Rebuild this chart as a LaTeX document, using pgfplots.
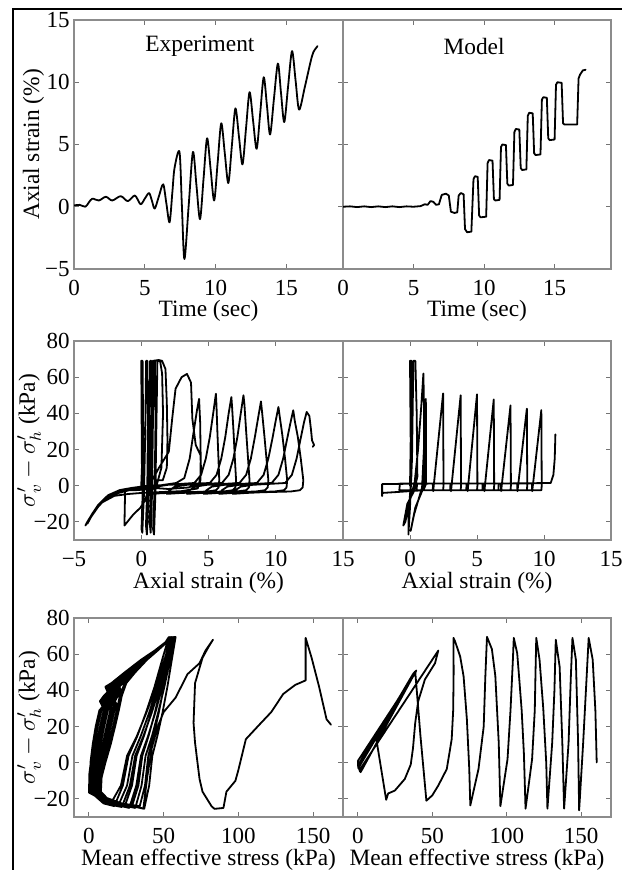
\documentclass[border=0pt]{standalone}
\usepackage{fontspec}
\setmainfont{Liberation Serif}
\usepackage{pgfplots}
\pgfplotsset{compat=1.18}

\pgfplotsset{
  panel/.style={
    scale only axis,
    axis line style={draw=black!45, line width=0.8pt},
    tick style={draw=black!55, line width=0.5pt},
    major tick length=2.5pt,
    tick align=inside,
    tick pos=both,
    xticklabel pos=lower,
    yticklabel pos=left,
    tick label style={font=\fontsize{11.5}{13}\selectfont, inner sep=0pt},
    label style={font=\fontsize{11.7}{14}\selectfont, inner sep=0pt},
    xticklabel style={anchor=center, yshift=-9.5pt},
    yticklabel style={anchor=east, xshift=-2pt},
    xlabel style={anchor=center},
    ylabel style={anchor=center},
  },
  curve/.style={black, line width=0.9pt, line join=round, line cap=round},
}

\begin{document}
\begin{tikzpicture}
\path[use as bounding box] (0,0) rectangle (311pt,435pt);
\draw[line width=0.75pt] (6.5pt,0) -- (6.5pt,430.5pt) -- (311pt,430.5pt);

% ---------------- top row: axial strain vs time
\begin{axis}[panel, at={(37pt,425pt)}, anchor=north west,
  width=134.5pt, height=124.5pt,
  xmin=0, xmax=19, ymin=-5, ymax=15,
  xtick={0,5,10,15}, xticklabels={0,5,10,15},
  ytick={-5,0,5,10,15}, yticklabels={−5,0,5,10,15},
  xlabel={Time (sec)}, ylabel={Axial strain (\%)},
  xlabel style={at={(rel axis cs:0.5,-0.17)}},
  ylabel style={at={(rel axis cs:-0.151,0.5)}}]
\addplot[curve, smooth, tension=0.5] coordinates {
(0,0.1) (0.4,0.15) (0.8,0.0) (1.05,0.35) (1.3,0.65) (1.75,0.5) (2.25,0.8)
(2.7,0.5) (3.3,0.85) (3.8,0.45) (4.3,0.9) (4.7,0.2) (5.0,0.65) (5.3,1.1)
(5.5,0.5) (5.7,-0.15) (6.0,0.85) (6.3,1.8) (6.52,0.3) (6.75,-1.25)
(6.95,1.2) (7.1,3.1) (7.45,4.4) (7.62,0.1) (7.8,-4.2) (8.1,0.1) (8.4,4.4)
(8.65,1.7) (8.9,-1.0) (9.15,2.25) (9.4,5.5) (9.65,3.0) (9.9,0.5)
(10.15,3.6) (10.4,6.7) (10.65,4.3) (10.9,1.9) (11.15,4.9) (11.4,7.9)
(11.65,5.65) (11.9,3.4) (12.15,6.3) (12.4,9.2) (12.65,6.9) (12.9,4.65)
(13.15,7.5) (13.4,10.4) (13.63,8.1) (13.85,5.8) (14.12,8.65) (14.4,11.5)
(14.62,9.15) (14.85,6.8) (15.12,9.65) (15.4,12.5) (15.65,10.15) (15.9,7.8)
(16.3,9.6) (16.7,11.6) (16.9,12.4) (17.2,12.9)
};
\node[font=\fontsize{11.7}{14}\selectfont] at (rel axis cs:0.468,0.893) {Experiment};
\end{axis}

\begin{axis}[panel, at={(171.5pt,425pt)}, anchor=north west,
  width=134pt, height=124.5pt,
  xmin=0, xmax=19, ymin=-5, ymax=15,
  xtick={0,5,10,15}, xticklabels={0,5,10,15},
  ytick={-5,0,5,10,15}, yticklabels={},
  xlabel={Time (sec)},
  xlabel style={at={(rel axis cs:0.5,-0.17)}}]
\addplot[curve] coordinates {
(0,0) (0.5,0.03) (1,-0.03) (1.5,0.03) (2,-0.03) (2.5,0.03) (3,-0.03)
(3.5,0.03) (4,-0.03) (4.5,0.03) (5,0) (5.5,0.05) (5.8,0.2) (6.0,0.15)
(6.2,0.45) (6.4,0.4) (6.6,0.15) (6.8,0.2) (7.0,0.95) (7.3,1.05) (7.5,0.9)
(7.65,-0.4) (7.9,-0.5) (8.1,-0.45) (8.2,0.9) (8.35,1.1) (8.55,1.0)
(8.65,-1.8) (8.8,-2.05) (9.1,-2.0) (9.25,2.2) (9.35,2.45) (9.55,2.4)
(9.65,-0.7) (9.75,-0.85) (10.15,-0.8) (10.25,3.5) (10.35,3.75) (10.6,3.7)
(10.7,0.6) (10.8,0.5) (11.1,0.55) (11.2,4.8) (11.3,5.0) (11.55,4.95)
(11.65,1.85) (11.75,1.7) (12.05,1.75) (12.15,6.0) (12.25,6.25) (12.5,6.2)
(12.6,3.1) (12.7,2.95) (13.0,3.0) (13.1,7.3) (13.2,7.55) (13.45,7.5)
(13.55,4.3) (13.65,4.15) (14.0,4.2) (14.1,8.6) (14.2,8.8) (14.45,8.75)
(14.55,5.5) (14.65,5.35) (15.0,5.4) (15.1,9.8) (15.2,10.0) (15.5,9.95)
(15.6,6.7) (15.7,6.6) (16.6,6.6) (16.7,10.3) (16.8,10.6) (17.0,10.95)
(17.2,11.0)
};
\node[font=\fontsize{11.7}{14}\selectfont] at (rel axis cs:0.489,0.893) {Model};
\end{axis}

% ---------------- middle row: stress vs axial strain
\begin{axis}[panel, at={(37pt,264.5pt)}, anchor=north west,
  width=134.5pt, height=99.5pt,
  xmin=-5, xmax=15, ymin=-30, ymax=80,
  xtick={-5,0,5,10,15}, xticklabels={−5,0,5,10,15},
  ytick={-20,0,20,40,60,80}, yticklabels={−20,0,20,40,60,80},
  xlabel={Axial strain (\%)}, ylabel={$\sigma'_v-\sigma'_h$ (kPa)},
  xlabel style={at={(rel axis cs:0.5,-0.213)}},
  ylabel style={at={(rel axis cs:-0.167,0.5)}}]
\addplot[curve] coordinates {
(0,0) (0.05,10) (0.0,69) (0.1,69) (0.14,30) (0.1,-5) (0.02,-24) (0.08,-26)
(0.2,-5) (0.3,30) (0.36,69) (0.46,69) (0.5,35) (0.45,0) (0.35,-22)
(0.42,-27) (0.55,-5) (0.6,30) (0.66,69) (0.76,69) (0.8,35) (0.75,0)
(0.62,-20) (0.7,-26) (0.8,-5) (0.86,30) (0.92,69) (1.02,69) (1.06,35)
(1.0,0) (0.88,-24) (0.95,-27) (1.05,-5) (1.12,30) (1.2,69) (1.4,69)
(1.55,62) (1.62,40) (1.5,10) (1.1,-1) (0.5,-2) (-0.5,-2.5) (-1.2,-2.6)
(-1.25,-22) (-0.6,-16) (-0.07,-12.2) (0.3,-8) (0.6,0) (0.75,30) (0.85,69)
(1.3,69.5) (1.55,69) (1.8,64.5) (1.9,46) (1.95,25) (1.9,10) (1.6,3)
(1.1,3) (0.9,4.2) (1.3,9.7) (2.05,18.8) (2.3,37) (2.55,53.6) (3.0,60)
(3.4,61.8) (3.7,57) (3.8,37) (4.05,22.5) (4.4,17) (4.45,8) (4.3,1)
(3.5,-1) (2,-1.8) (0.5,-1) (-0.8,-1.8) (-1.7,-2.9) (-2.6,-6.1)
(-3.2,-10.6) (-3.7,-16.2) (-4.15,-22) (-4.05,-20.5) (-3.6,-15) (-3.05,-9.5)
(-2.45,-5.2) (-1.6,-2.4) (-0.7,-1.2) (0.3,-0.2) (1.5,0.3) (2.6,1.5)
(3.2,4.2) (3.6,15) (3.9,30) (4.15,42) (4.3,48) (4.38,35) (4.42,15)
(4.4,3) (4.2,-1.5) (3,-3) (1.5,-3.5) (0,-4) (-1,-4.6) (-2,-5.6) (-2.9,-9.2)
(-3.5,-14) (-4.0,-21) (-3.85,-18.5) (-3.0,-9.5) (-2.0,-4.6) (-0.9,-2.5) (0,-1)
(1,0) (2.5,0.8) (3.95,1.5) (4.45,6) (4.8,15) (5.1,27) (5.35,40) (5.55,50.8)
(5.59,45) (5.66,30) (5.74,15) (5.8,3) (5.75,-1) (5.55,-2.5) (4.9,-3.2)
(3.5,-3.6) (2,-4) (0.5,-4.5)
(0.7,-2.5) (1.1,-0.5) (2,0.5) (5.1,1.5) (5.6,6) (5.95,15) (6.25,27)
(6.5,40) (6.7,49) (6.75,44) (6.86,30) (6.96,15) (7.05,3) (7.0,-1)
(6.8,-2.5) (6.1,-3.2) (4.5,-3.6) (3,-4) (1.9,-4.5)
(2.1,-2.5) (2.5,-0.5) (3.4,0.5) (6.0,1.5) (6.5,6) (6.85,15) (7.15,27)
(7.4,40) (7.6,50) (7.67,45) (7.8,30) (7.94,15) (8.05,3) (8.0,-1)
(7.8,-2.5) (7.1,-3.2) (5.5,-3.6) (4.5,-4) (3.4,-4.5)
(3.6,-2.5) (4,-0.5) (4.9,0.5) (7.3,1.5) (7.8,6) (8.15,15) (8.45,27)
(8.7,38) (8.9,46.6) (8.98,41) (9.15,28) (9.31,15) (9.45,3) (9.4,-1)
(9.2,-2.5) (8.5,-3.2) (6.8,-3.6) (5.7,-4) (4.65,-4.5)
(4.85,-2.5) (5.25,-0.5) (6.2,0.5) (8.6,1.5) (9.1,6) (9.45,15) (9.75,26)
(10.0,36) (10.2,43.5) (10.3,38) (10.49,28) (10.69,15) (10.85,3)
(10.8,-1) (10.6,-2.5) (9.9,-3.2) (8,-3.6) (6.8,-4) (5.8,-4.5)
(6,-2.5) (6.4,-0.5) (7.3,0.5) (9.7,1.5) (10.2,6) (10.55,15) (10.85,26)
(11.1,35) (11.3,41.7) (11.41,36) (11.64,27) (11.86,15) (12.05,3)
(12.0,-1) (11.8,-2.5) (11.1,-3.2) (9,-3.6) (7.8,-4) (6.8,-4.5)
(7,-2.5) (7.4,-0.5) (8.3,0.5) (10.7,1.5) (11.2,6) (11.55,15) (11.85,26)
(12.1,35) (12.3,40.8) (12.5,38.5) (12.62,31) (12.7,25) (12.85,22.5)
(12.75,21.5)
};
\end{axis}

\begin{axis}[panel, at={(171.5pt,264.5pt)}, anchor=north west,
  width=134pt, height=99.5pt,
  xmin=-5, xmax=15, ymin=-30, ymax=80,
  xtick={-5,0,5,10,15}, xticklabels={,0,5,10,15},
  ytick={-20,0,20,40,60,80}, yticklabels={},
  xlabel={Axial strain (\%)},
  xlabel style={at={(rel axis cs:0.5,-0.213)}}]
\addplot[curve] coordinates {
(0,0) (0.05,25) (0,69) (0.12,69) (0.18,40) (0.1,5) (-0.1,-15) (-0.12,-27)
(0.0,-12) (0.15,15) (0.25,69) (0.4,69) (0.5,40) (0.55,5) (0.3,-3)
(-0.2,-10) (-0.5,-22) (-0.35,-20) (0,-8) (0.35,2) (0.6,20) (0.85,45)
(1.0,62) (1.05,40) (1.05,2) (0.9,-3) (0.4,-12) (0.05,-25) (0.3,-16)
(0.7,-6) (0.9,-1) (1.05,22) (1.18,48) (1.2,30) (1.2,1) (1.0,-2.5)
(0,-3) (-1,-3.5) (-2.08,-4) (-2.08,-5.8) (-2.08,0.9) (-1,1) (0.5,1.1)
(1.7,1.2) (1.73,-3) (2.47,51) (2.5,0) (2.47,-2.5) (1,-2.5) (-0.8,-2.5)
(-0.75,1.2) (1,1.2) (3.05,1.2) (3.06,-3) (3.78,50) (3.81,0) (3.78,-2.5)
(0.5,-2.5) (0.52,1.2) (4.28,1.2) (4.3,-3) (5.0,50.5) (5.03,0) (5.0,-2.5)
(1.7,-2.5) (1.72,1.2) (5.53,1.2) (5.55,-3) (6.25,47.7) (6.28,0)
(6.25,-2.5) (3.0,-2.5) (3.02,1.2) (6.78,1.2) (6.8,-3) (7.5,44.4)
(7.53,0) (7.5,-2.5) (4.2,-2.5) (4.22,1.2) (8.0,1.2) (8.02,-3) (8.72,42.6)
(8.75,0) (8.72,-2.5) (5.4,-2.5) (5.42,1.2) (9.1,1.2) (9.12,-3) (9.8,41.8)
(9.83,0) (9.8,-2.5) (6.6,-2.5) (6.62,1.2) (10.5,1.5) (10.7,6) (10.8,15)
(10.85,28.4)
};
\end{axis}

% ---------------- bottom row: stress vs mean effective stress
\begin{axis}[panel, at={(37pt,126pt)}, anchor=north west,
  width=134.5pt, height=99.5pt,
  xmin=-10, xmax=170, ymin=-30, ymax=80,
  xtick={0,50,100,150}, xticklabels={0,50,100,150},
  ytick={-20,0,20,40,60,80}, yticklabels={−20,0,20,40,60,80},
  xlabel={Mean effective stress (kPa)}, ylabel={$\sigma'_v-\sigma'_h$ (kPa)},
  xlabel style={at={(rel axis cs:0.5,-0.213)}},
  ylabel style={at={(rel axis cs:-0.167,0.5)}}]
\addplot[curve] coordinates {
(162,21) (159,24) (154,42) (149,58) (145,69) (145,45.5) (138,43) (130,38)
(122,28) (114,21) (105,13) (100,-4) (98,-10) (92,-16) (90,-25) (84,-25.5)
(82,-24) (76,-16) (74,-9) (71,11) (70,22) (71,44) (76,58) (80,64) (83,68)
(78,62) (74,55) (66,49) (58,36) (50,28) (46,20) (42,8) (39,-8) (37.5,-18)
(36.4,-25.4)
(23.6,-23) (12,-19.5) (8,-16) (8.5,-8)
(11,0) (14.5,10) (17.5,20) (20,29) (22,37) (25,44) (31,50) (39,57) (46,62)
(52,66.5) (58,69.5)
(55.8,58.7) (52.5,42) (49.2,27.6) (45.8,14.8) (42.4,3.8) (40.3,-12.6) (37,-25.4)
(23.6,-23) (11.2,-19.5) (7.2,-16) (7.7,-8)
(9.9,0) (13.2,10) (16.1,20) (18.6,29) (20.7,37) (23.9,44) (30.2,50)
(38.6,57) (45.8,62) (51.9,66.5) (56,69.5)
(53.7,58.7) (50.2,42) (46.7,27.6) (43.3,14.8) (39.7,3.8) (37.5,-12.6) (34,-24)
(21.6,-22.5) (10.4,-19.5) (6.4,-16) (6.9,-8)
(8.8,0) (11.9,10) (14.6,20) (17.1,29) (19.3,31) (17.4,34) (19.4,37)
(21.9,39) (20.4,42) (22.8,44) (29.5,50) (38.1,57) (45.6,62) (51.8,66.5) (57.5,69.5)
(54.7,58.7) (50.5,42) (46.3,27.6) (42.2,14.8) (37.9,3.8) (35.2,-12.6) (31,-25)
(19.6,-23) (9.7,-19) (5.7,-15.5) (6.2,-8)
(7.7,0) (10.5,10) (13.2,20) (15.7,29) (17.9,31) (16,34) (18,37)
(20.5,39) (19,42) (21.7,44) (28.7,50) (37.7,57) (45.3,62) (51.7,66.5) (55,69.5)
(52.2,58.7) (48.1,42) (44.1,27.6) (39.9,14.8) (35.7,3.8) (33.1,-12.6) (29,-23.5)
(18.2,-22) (8.9,-19) (4.9,-16) (5.4,-8)
(6.6,0) (9.2,10) (11.8,20) (14.3,29) (16.5,31) (14.6,34) (16.7,37)
(19.2,39) (17.7,42) (20.6,44) (27.9,50) (37.2,57) (45.1,62) (51.6,66.5) (57,69.5)
(53.8,58.7) (49.1,42) (44.4,27.6) (39.6,14.8) (34.8,3.8) (31.7,-12.6) (27,-25)
(16.7,-23) (8.1,-19.5) (4.1,-16.5) (4.6,-8)
(5.4,0) (7.8,10) (10.2,20) (12.7,29) (14.9,31) (13,34) (15.3,37)
(17.8,39) (16.3,42) (19.4,44) (27.1,50) (36.8,57) (44.9,62) (51.4,66.5) (54.5,69.5)
(51.3,58.7) (46.4,42) (41.7,27.6) (36.8,14.8) (31.9,3.8) (28.8,-12.6) (24,-24)
(14.7,-22.5) (7.3,-19) (3.3,-16) (3.8,-8)
(4.3,0) (6.5,10) (8.8,20) (11.3,29) (13.5,31) (11.6,34) (14,37)
(16.5,39) (15,42) (18.3,44) (26.3,50) (36.3,57) (44.7,62) (51.3,66.5) (56.5,69.5)
(52.8,58.7) (47.4,42) (42,27.6) (36.5,14.8) (30.9,3.8) (27.4,-12.6) (22,-24.5)
(13.3,-23) (6.6,-19.5) (2.6,-16.5) (3.1,-8)
(3.2,0) (5.1,10) (7.4,20) (9.9,29) (12.1,31) (10.2,34) (12.6,37)
(15.1,39) (13.6,42) (17.2,44) (25.5,50) (35.9,57) (44.4,62) (51.2,66.5) (55,69.5)
(51.3,58.7) (45.8,42) (40.3,27.6) (34.7,14.8) (29.1,3.8) (25.5,-12.6) (20,-23)
(11.8,-22) (5.8,-19) (1.8,-15.5) (2.3,-8)
(2.1,0) (3.8,10) (5.9,20) (8.4,29) (10.6,31) (8.7,34) (11.3,37)
(13.8,39) (12.3,42) (16.1,44) (24.8,50) (35.4,57) (44.2,62) (51.1,66.5) (53.5,69.5)
(49.6,58.7) (43.9,42) (38.1,27.6) (32.4,14.8) (26.5,3.8) (22.7,-12.6) (17,-24)
(9.8,-22.5) (5,-19) (1,-16) (1.5,-8)
(1,0) (2.5,10) (4.5,20) (7,29) (9.2,31) (7.3,34) (10,37)
(12.5,39) (11,42) (15,44) (24,50) (35,57) (44,62) (51,66.5) (55.5,69.5)
(51.2,58.7) (44.8,42) (38.4,27.6) (32.1,14.8) (25.5,3.8) (21.4,-12.6) (15,-22)
(6.8,-19.5) (0,-16.5) (0.3,-6) (1.5,2)
};
\end{axis}

\begin{axis}[panel, at={(171.5pt,126pt)}, anchor=north west,
  width=134pt, height=99.5pt,
  xmin=-10, xmax=170, ymin=-30, ymax=80,
  xtick={0,50,100,150}, xticklabels={0,50,100,150},
  ytick={-20,0,20,40,60,80}, yticklabels={},
  xlabel={Mean effective stress (kPa)},
  xlabel style={at={(rel axis cs:0.5,-0.213)}}]
\addplot[curve] coordinates {
(160.4,0.2) (159.5,29) (157.7,57) (155,69) (153.6,47) (151.3,11)
(148.6,-26.3) (147.9,11) (146.4,57) (144.1,69) (143,47) (141.5,11)
(138.5,-25.4) (137.3,11) (135.5,53) (132.9,68) (132,40) (130.5,11)
(127.3,-25.4) (126.5,0) (124.5,30) (122,57) (119.8,69) (119.3,50)
(118.8,29) (117,2) (112.6,-25.4) (111.5,5) (110,29) (108.5,45) (107,60.5)
(104.7,69) (104,55) (102.5,29) (100.5,2) (95.7,-24) (94.6,11) (92.3,48)
(90,62.8) (86.7,69.6) (85.6,47.7) (84.5,20) (81,-3.5) (75.5,-23.6)
(74.8,-3.5) (73.2,24) (71,47.7) (68.7,58.7) (65.3,67) (64.2,69) (64.3,50)
(64,29) (63,13) (59.7,-3.5) (54,-12.6) (50,-18) (46,-21) (42,15)
(38.5,50.5) (12.4,13) (19,-20.5) (20.3,-17) (24.8,-15.4) (31.5,-9)
(35.5,-1) (37,8) (38.5,22) (40.5,34) (45,46) (51.8,55) (54,62)
(2,-3) (1.5,-5) (0,-1.5) (38,50) (37,49) (0.5,-2) (1.8,-5.2) (3,-3.5)
(39.2,51) (38.5,49.5) (0,1) (0.3,-3) (36.5,47.5) (1,-1)
};
\end{axis}
\end{tikzpicture}
\end{document}
